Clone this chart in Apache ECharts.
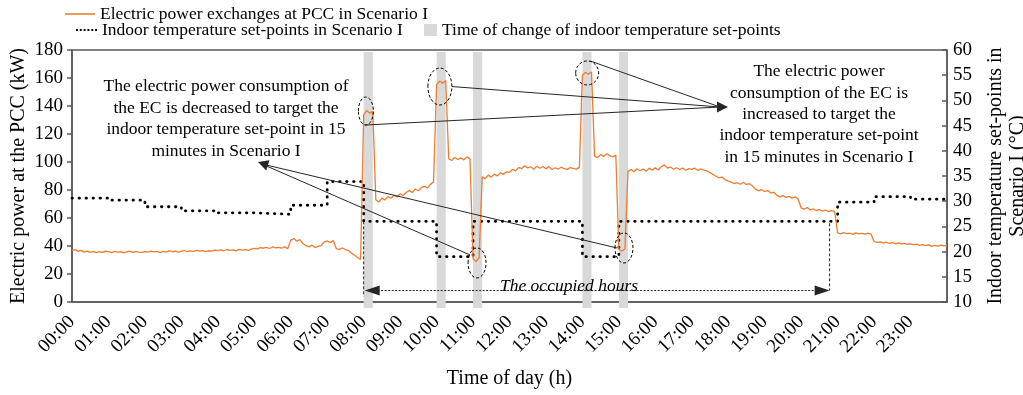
<!DOCTYPE html>
<html>
<head>
<meta charset="utf-8">
<script src="https://cdn.jsdelivr.net/npm/echarts@6/dist/echarts.min.js"></script>
<style>
  html, body { margin: 0; padding: 0; background: #fff; }
  #chart { width: 1023px; height: 395px; }
</style>
</head>
<body>
<div id="chart"></div>
<script>
// x tick labels, one per hour
const hourLabels = ['00:00', '01:00', '02:00', '03:00', '04:00', '05:00', '06:00', '07:00',
  '08:00', '09:00', '10:00', '11:00', '12:00', '13:00', '14:00', '15:00',
  '16:00', '17:00', '18:00', '19:00', '20:00', '21:00', '22:00', '23:00'];

// electric power exchanges at the PCC (kW), one value every 5 minutes, 00:00 .. 24:00
const pccPower = [
  36.8, 37.4, 36.2, 36.9, 35.6, 36.3, 35.4, 36.1, 35.2, 36.0, 35.5, 36.4,
  35.9, 35.3, 36.2, 35.6, 36.0, 35.1, 35.8, 36.3, 35.5, 36.1, 35.7, 35.4,
  36.0, 35.6, 36.4, 35.8, 36.2, 35.3, 36.1, 35.7, 36.5, 35.9, 36.3, 35.6,
  36.2, 36.8, 35.9, 36.5, 36.1, 36.9, 36.3, 36.7, 36.0, 36.6, 36.4, 37.0,
  36.7, 37.3, 36.6, 37.5, 36.9, 37.2, 36.5, 37.6, 37.0, 37.4, 36.8, 37.7,
  38.3, 37.9, 38.8, 38.4, 39.1, 38.2, 39.3, 38.6, 39.0, 38.4, 39.4, 38.1,
  44.2, 45.3, 43.4, 44.6, 41.8, 40.2, 39.4, 40.6, 38.9, 39.8, 40.3, 42.9,
  43.6, 42.4, 43.9, 38.2, 37.6, 38.6, 37.4, 36.8, 34.9, 33.6, 31.8, 30.4,
  133.5, 136.8, 134.9, 136.2, 73.1, 71.4, 74.2, 72.9, 75.3, 74.1, 76.2, 75.0,
  77.3, 76.1, 78.4, 79.6, 78.2, 80.7, 79.5, 81.8, 82.6, 81.4, 84.1, 85.8,
  155.4, 157.8, 156.3, 158.2, 102.4, 101.1, 103.2, 101.8, 102.9, 101.5, 103.6, 102.2,
  30.8, 28.9, 31.6, 89.4, 88.1, 90.6, 89.2, 91.3, 90.1, 92.4, 91.2, 93.0,
  92.6, 94.8, 93.7, 96.1, 95.2, 97.3, 95.8, 96.6, 94.9, 97.0, 95.5, 96.8,
  95.1, 96.7, 94.6, 95.9, 94.8, 96.3, 95.2, 94.7, 96.0, 95.4, 94.9, 96.2,
  162.1, 163.9, 162.8, 164.3, 104.2, 103.1, 105.4, 104.0, 105.8, 104.6, 103.7, 104.9,
  37.6, 36.2, 38.1, 93.4, 94.6, 93.1, 95.2, 93.8, 94.9, 93.5, 95.6, 94.2,
  95.8, 94.3, 96.7, 97.9, 95.6, 96.4, 94.8, 95.9, 94.6, 95.7, 94.1, 95.3,
  94.8, 95.6, 93.9, 95.1, 94.2, 93.6, 92.4, 91.1, 89.8, 88.6, 89.2, 87.4,
  86.3, 85.7, 84.6, 85.2, 84.1, 85.6, 83.9, 84.5, 82.8, 80.6, 79.4, 80.2,
  78.9, 79.6, 77.8, 78.4, 76.2, 75.1, 76.0, 74.7, 75.4, 74.2, 75.1, 73.6,
  67.2, 66.3, 67.5, 65.8, 66.6, 65.2, 66.1, 64.9, 65.7, 64.6, 65.3, 64.8,
  49.3, 48.6, 49.5, 48.8, 49.1, 48.3, 49.4, 48.7, 49.0, 48.5, 49.2, 48.4,
  43.2, 42.6, 43.0, 42.1, 42.7, 41.8, 42.4, 41.6, 42.2, 41.5, 41.9, 41.2,
  41.6, 40.9, 41.3, 40.4, 41.0, 40.2, 40.8, 39.7, 40.5, 39.9, 40.6, 40.1,
  40.4
];

// indoor temperature set-points (degC), one per hour starting at 00:00
const setPoints = [30.6, 30.2, 28.9, 28.1, 27.7, 27.4, 29.2, 33.9,
  26, 26, 19, 26, 26, 26, 19, 26, 26, 26, 26, 26, 26, 29.8, 30.9, 30.4];

// start of each 15-minute window where the set-point changes (h)
const changeTimes = [8, 10, 11, 14, 15];

const NAME_PCC = 'Electric power exchanges at PCC in Scenario I';
const NAME_SET = 'Indoor temperature set-points in Scenario I';
const NAME_CHG = 'Time of change of indoor temperature set-points';

const FONT = '"Liberation Serif", "Times New Roman", serif';
const AXIS_COLOR = '#595959';
const ORANGE = '#ED7D31';

const pccData = pccPower.map((v, i) => [i * 5 / 60, v]);
const setData = setPoints.map((v, i) => [i, v]);
setData.push([24, setPoints[setPoints.length - 1]]);

const chart = echarts.init(document.getElementById('chart'));

const legendText = { fontFamily: FONT, fontSize: 17.5, color: '#000' };

const option = {
  animation: false,
  backgroundColor: '#fff',
  textStyle: { fontFamily: FONT, color: '#000' },
  grid: {
    left: 72, right: 76, top: 50, bottom: 93,
    show: true, borderColor: AXIS_COLOR, borderWidth: 1.5,
    containLabel: false, outerBoundsMode: 'none'
  },
  legend: [
    {
      left: 65, top: 5, padding: 0, itemWidth: 30, itemHeight: 1.6,
      textStyle: legendText,
      data: [{ name: NAME_PCC, icon: 'rect', itemStyle: { color: ORANGE } }]
    },
    {
      left: 76, top: 21, padding: 0, itemWidth: 21, itemHeight: 2,
      textStyle: legendText,
      data: [{
        name: NAME_SET,
        icon: 'path://M0,0h2v2h-2z M4,0h2v2h-2z M8,0h2v2h-2z M12,0h2v2h-2z M16,0h2v2h-2z M20,0h2v2h-2z',
        itemStyle: { color: '#000' }
      }]
    },
    {
      left: 424, top: 21, padding: 0, itemWidth: 13, itemHeight: 12,
      textStyle: legendText,
      data: [{ name: NAME_CHG, icon: 'rect', itemStyle: { color: '#d9d9d9' } }]
    }
  ],
  xAxis: {
    type: 'value',
    min: 0, max: 24, interval: 1,
    name: 'Time of day (h)',
    nameLocation: 'middle',
    nameGap: 67,
    nameMoveOverlap: false,
    nameTextStyle: { fontFamily: FONT, fontSize: 20, color: '#000' },
    axisLine: { show: true, lineStyle: { color: AXIS_COLOR, width: 1.5 } },
    axisTick: { show: false },
    splitLine: { show: false },
    axisLabel: {
      rotate: 45, margin: 17,
      fontFamily: FONT, fontSize: 19, color: '#000',
      formatter: v => hourLabels[v] || ''
    }
  },
  yAxis: [
    {
      type: 'value',
      min: 0, max: 180, interval: 20,
      name: 'Electric power at the PCC (kW)',
      nameLocation: 'middle',
      nameGap: 43,
      nameMoveOverlap: false,
      nameTextStyle: { fontFamily: FONT, fontSize: 20, color: '#000' },
      axisLine: { show: true, lineStyle: { color: AXIS_COLOR, width: 1.5 } },
      axisTick: { show: true, inside: false, length: 5, lineStyle: { color: AXIS_COLOR, width: 1.5 } },
      splitLine: { show: false },
      axisLabel: { margin: 9, fontFamily: FONT, fontSize: 19, color: '#000' }
    },
    {
      type: 'value',
      position: 'right',
      min: 10, max: 60, interval: 5,
      name: 'Indoor temperature set-points in\nScenario I (°C)',
      nameLocation: 'middle',
      nameRotate: 90,
      nameGap: 38,
      nameMoveOverlap: false,
      nameTextStyle: { fontFamily: FONT, fontSize: 20, color: '#000', lineHeight: 22 },
      axisLine: { show: true, lineStyle: { color: AXIS_COLOR, width: 1.5 } },
      axisTick: { show: true, inside: true, length: 5, lineStyle: { color: AXIS_COLOR, width: 1.5 } },
      splitLine: { show: false },
      axisLabel: { margin: 6, fontFamily: FONT, fontSize: 19, color: '#000' }
    }
  ],
  series: [
    {
      name: NAME_CHG,
      type: 'custom',
      xAxisIndex: 0,
      yAxisIndex: 0,
      clip: false,
      z: 1,
      itemStyle: { color: '#d9d9d9' },
      encode: { x: 0 },
      data: changeTimes.map(t => [t]),
      renderItem: function (params, api) {
        const t = api.value(0);
        const p0 = api.coord([t, 180]);
        const p1 = api.coord([t + 0.25, 0]);
        return {
          type: 'rect',
          shape: { x: p0[0], y: p0[1] + 2, width: p1[0] - p0[0], height: p1[1] - p0[1] + 4 },
          style: { fill: '#d9d9d9' }
        };
      }
    },
    {
      name: NAME_SET,
      type: 'line',
      yAxisIndex: 1,
      step: 'end',
      showSymbol: false,
      symbol: 'none',
      z: 3,
      itemStyle: { color: '#000' },
      lineStyle: { color: '#000', width: 2.8, type: [0.5, 6.5], cap: 'round' },
      data: setData
    },
    {
      name: NAME_PCC,
      type: 'line',
      yAxisIndex: 0,
      showSymbol: false,
      symbol: 'none',
      z: 4,
      itemStyle: { color: ORANGE },
      lineStyle: { color: ORANGE, width: 1.3 },
      data: pccData
    }
  ]
};

chart.setOption(option);

// annotations placed from data coordinates
const P = (t, v) => chart.convertToPixel({ xAxisIndex: 0, yAxisIndex: 0 }, [t, v]);
const tempY = v => chart.convertToPixel({ yAxisIndex: 1 }, v);

const ink = '#262626';
const ellipse = (t, v, rx, ry) => {
  const c = P(t, v);
  return {
    type: 'ellipse', z: 20,
    shape: { cx: c[0], cy: c[1], rx: rx, ry: ry },
    style: { fill: 'none', stroke: '#000', lineWidth: 1, lineDash: [3, 2] }
  };
};
const seg = (a, b, dash) => ({
  type: 'line', z: 19,
  shape: { x1: a[0], y1: a[1], x2: b[0], y2: b[1] },
  style: { stroke: ink, lineWidth: 1, lineDash: dash || null }
});
const tri = pts => ({ type: 'polygon', z: 21, shape: { points: pts }, style: { fill: ink } });

const e8 = P(8.06, 136.4), e10 = P(10.09, 153.9), e11 = P(11.11, 27.9);
const e14 = P(14.13, 163.6), e15 = P(15.14, 38.6);

const tipL = [262, 164];
const tipR = [720, 107];

const x8 = P(8, 0)[0];
const xEnd = P(20.78, 0)[0];
const yArrow = P(0, 8.2)[1];
const y26 = tempY(26);

const graphics = [
  ellipse(8.06, 136.4, 7.5, 14),
  ellipse(10.09, 153.9, 12, 18.5),
  ellipse(11.11, 27.9, 9, 15),
  ellipse(14.13, 163.6, 11.5, 12),
  ellipse(15.14, 38.6, 9, 15),
  // lines to the "increased" note
  seg([e8[0] - 1, e8[1] + 14], tipR),
  seg([e10[0] + 12, e10[1]], tipR),
  seg([e14[0] + 3, e14[1] - 12], tipR),
  tri([[728, 107], [717, 101.5], [717, 112.5]]),
  // lines to the "decreased" note
  seg([e11[0] - 7, e11[1] - 8], tipL),
  seg([e15[0] - 7, e15[1]], tipL),
  tri([[258, 162], [269.5, 160.3], [266.2, 170.6]]),
  // occupied hours
  seg([x8, y26], [x8, yArrow + 6], [3, 2]),
  seg([xEnd, y26 + 2], [xEnd, yArrow], [3, 2]),
  seg([x8 + 14, yArrow], [xEnd - 14, yArrow], [2, 1.5]),
  tri([[x8 + 1, yArrow], [x8 + 16, yArrow - 5], [x8 + 16, yArrow + 5]]),
  tri([[xEnd, yArrow], [xEnd - 15, yArrow - 5], [xEnd - 15, yArrow + 5]]),
  {
    type: 'text', z: 22, x: 569, y: 286,
    style: {
      text: 'The occupied hours', fill: '#000',
      font: 'italic 17.5px ' + FONT, align: 'center', verticalAlign: 'middle'
    }
  },
  {
    type: 'text', z: 22, x: 226, y: 119,
    style: {
      text: 'The electric power consumption of\nthe EC is decreased to target the\nindoor temperature set-point in 15\nminutes in Scenario I',
      fill: '#000', font: '17.5px ' + FONT, align: 'center', verticalAlign: 'middle', lineHeight: 21.7
    }
  },
  {
    type: 'text', z: 22, x: 819, y: 114.5,
    style: {
      text: 'The electric power\nconsumption of the EC is\nincreased to target the\nindoor temperature set-point\nin 15 minutes in Scenario I',
      fill: '#000', font: '17.5px ' + FONT, align: 'center', verticalAlign: 'middle', lineHeight: 21.4
    }
  }
];

chart.setOption({ graphic: graphics });
</script>
</body>
</html>
